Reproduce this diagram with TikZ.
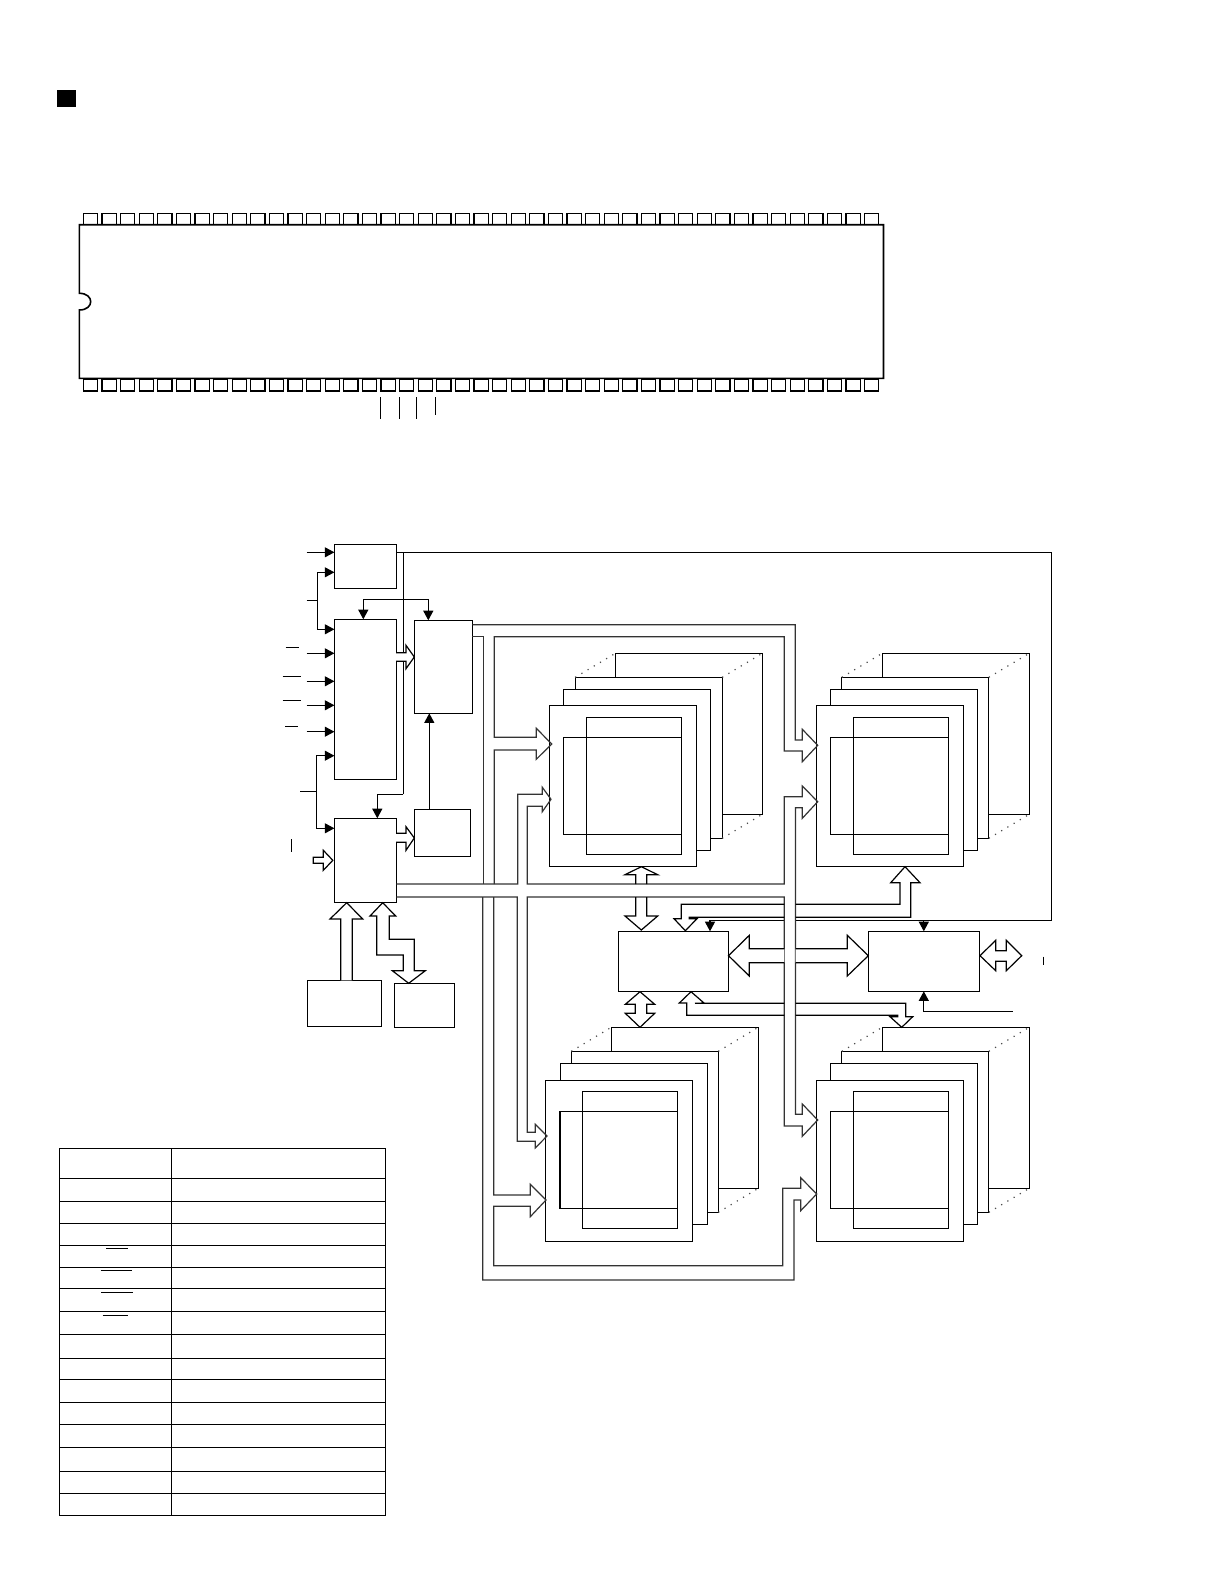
\documentclass[tikz,border=0pt]{standalone}
\usepackage{amsmath}
\usepackage{tikz}
\usetikzlibrary{calc}
\usetikzlibrary{arrows.meta}
\tikzset{
  blockNode/.style 2 args={%
    rectangle, draw, fill=white, inner sep=0pt, outer sep=0pt, line width=0.6pt,
    minimum width=#1*0.5pt, minimum height=#2*0.5pt,
  },
  memNode/.style={blockNode={147}{161}},
  innerTopNode/.style={blockNode={95}{137},fill=none},
  innerLeftNode/.style={blockNode={117.5}{97},fill=none},
  pinNode/.style={blockNode={14.3}{11.4}},
  sigLine/.style={line width=0.6pt},
  sigArrow/.style={line width=0.6pt,-{Triangle[length=4.8pt,width=5pt]}},
  busLine/.style={line width=0.6pt,draw=black!80,line join=miter},
  headLine/.style={line width=0.6pt,draw=black,fill=white},
  depthLine/.style={line width=0.6pt,draw=black!70,dash pattern=on 0.6pt off 3pt},
  tableLine/.style={line width=0.65pt},
}
\begin{document}
\begin{tikzpicture}[x=0.5pt,y=-0.5pt]

          \useasboundingbox (0,0) rectangle (1224,1584);

          \node[blockNode={17.5}{16.5},fill=black] (titleMark) at (66.2,98.5) {} ;

          \foreach \i in {0,...,42} {
            \node[pinNode] (pinTop\i) at ({90.5+18.6*\i},219) {} ;
            \node[pinNode] (pinBot\i) at ({90.5+18.6*\i},385.2) {} ;
          }
          \draw[line width=0.8pt,fill=white]
            (79.3,224.7) -- (883.5,224.7) -- (883.5,378.4) -- (79.3,378.4) -- (79.3,310)
            .. controls (94.5,310) and (94.5,293.3) .. (79.3,293.3) -- cycle;
          \draw[sigLine]
            (380.3,397) -- (380.3,419)
            (399.3,397) -- (399.3,419)
            (416.3,397) -- (416.3,419)
            (435.3,397) -- (435.3,415)
            ;

          \node[blockNode={62}{44}] (boxA) at (365.4,566.3) {} ;
          \node[blockNode={62}{160}] (boxB) at (365.4,699.3) {} ;
          \node[blockNode={58}{93}] (boxC) at (443.3,666.8) {} ;
          \node[blockNode={56}{47}] (boxD) at (442.3,832.8) {} ;
          \node[blockNode={62}{84}] (boxE) at (365.4,860.3) {} ;
          \node[blockNode={74}{46}] (boxF) at (344.3,1003.3) {} ;
          \node[blockNode={60}{44}] (boxG) at (424.3,1005.3) {} ;
          \node[blockNode={110}{60}] (boxH) at (673.3,961.3) {} ;
          \node[blockNode={111}{60}] (boxI) at (923.8,961.3) {} ;

          \node[memNode] (bankAback) at (688.9,733.8) {} ;
          \node[memNode] (bankAmidb) at (648.7,757.8) {} ;
          \node[memNode] (bankAmida) at (637,769.8) {} ;
          \node[memNode] (bankAfront) at (622.9,785.8) {} ;
          \node[innerTopNode] (bankAtop) at (633.8,785.8) {} ;
          \node[innerLeftNode] (bankAleft) at (622.6,785.8) {} ;

          \node[memNode] (bankBback) at (955.8,733.8) {} ;
          \node[memNode] (bankBmidb) at (915.3,757.8) {} ;
          \node[memNode] (bankBmida) at (904.3,769.8) {} ;
          \node[memNode] (bankBfront) at (889.8,785.9) {} ;
          \node[innerTopNode] (bankBtop) at (900.8,785.8) {} ;
          \node[innerLeftNode] (bankBleft) at (889.5,785.8) {} ;

          \node[memNode] (bankCback) at (684.8,1107.8) {} ;
          \node[memNode] (bankCmidb) at (644.8,1131.8) {} ;
          \node[memNode] (bankCmida) at (634,1143.8) {} ;
          \node[memNode] (bankCfront) at (618.8,1160.8) {} ;
          \node[innerTopNode] (bankCtop) at (629.8,1160.3) {} ;
          \node[innerLeftNode] (bankCleft) at (618.8,1160.3) {} ;

          \node[memNode] (bankDback) at (955.8,1107.8) {} ;
          \node[memNode] (bankDmidb) at (915.3,1131.8) {} ;
          \node[memNode] (bankDmida) at (904.3,1143.8) {} ;
          \node[memNode] (bankDfront) at (889.8,1160.8) {} ;
          \node[innerTopNode] (bankDtop) at (900.8,1160.3) {} ;
          \node[innerLeftNode] (bankDleft) at (889.5,1160.3) {} ;

          \foreach \bank in {bankA,bankB,bankC,bankD} {
            \draw[depthLine]
              (\bank midb.north west) -- (\bank back.north west)
              (\bank midb.north east) -- (\bank back.north east)
              (\bank midb.south east) -- (\bank back.south east)
              ;
          }

          \coordinate (inClock) at (306.7,552.3);
          \coordinate (inFork) at (306.7,600.3);
          \coordinate (inFourA) at (306.7,653.3);
          \coordinate (inFourB) at (306.7,681.3);
          \coordinate (inFourC) at (306.7,705.3);
          \coordinate (inFourD) at (306.7,731.7);
          \coordinate (inLower) at (300,791.3);
          \coordinate (splitTop) at (317.3,600.3);
          \coordinate (splitLow) at (316.3,791.3);
          \coordinate (runTop) at (403.3,552.3);
          \coordinate (runLow) at (403.3,794.3);
          \coordinate (outerTop) at (1051.5,552.3);
          \coordinate (outerLow) at (1051.5,920.3);
          \coordinate (gapRight) at (795.7,920.3);
          \coordinate (gapLeft) at (784.3,920.3);
          \coordinate (forkLeft) at (363.3,599.3);
          \coordinate (forkRight) at (428.3,599.3);
          \coordinate (inBoxI) at (1012.7,1011.3);

          \draw[sigArrow] (inClock) -- (inClock -| boxA.west);
          \draw[sigArrow] (splitTop) |- (boxA.west |- 0,572.3);
          \draw[sigArrow] (splitTop) |- (boxB.west |- 0,629.3);
          \draw[sigLine] (inFork) -- (splitTop);
          \draw[sigArrow] (inFourA) -- (inFourA -| boxB.west);
          \draw[sigArrow] (inFourB) -- (inFourB -| boxB.west);
          \draw[sigArrow] (inFourC) -- (inFourC -| boxB.west);
          \draw[sigArrow] (inFourD) -- (inFourD -| boxB.west);
          \draw[sigLine] (inLower) -- (splitLow);
          \draw[sigArrow] (splitLow) |- (boxB.west |- 0,755.7);
          \draw[sigArrow] (splitLow) |- (boxE.west |- 0,828.3);
          \draw[sigLine] (runTop) -- (runLow);
          \draw[sigArrow] (runLow) -| (boxE.north -| 377.3,0);
          \draw[sigArrow] (forkRight) -- (forkRight |- boxC.north);
          \draw[sigArrow] (forkLeft) -- (forkLeft |- boxB.north);
          \draw[sigLine] (forkLeft) -- (forkRight);
          \draw[sigArrow] (boxD.north -| 429.3,0) -- (boxC.south -| 429.3,0);
          \draw[sigLine] (boxA.east |- inClock) -- (outerTop) -- (outerLow) -- (gapRight);
          \draw[sigArrow] (boxI.north |- outerLow) -- (boxI.north);
          \draw[sigArrow] (gapLeft) -| (boxH.north -| 710,0);
          \draw[sigArrow] (inBoxI) -| (boxI.south);

          \coordinate (tipBtoC) at (414.3,657);
          \coordinate (tipEtoD) at (414.3,838);
          \coordinate (tipInE) at (332.8,860.3);
          \coordinate (tipFtoE) at (346.7,902.7);
          \coordinate (tipEtoG) at (382.7,902.7);
          \coordinate (tipGtoE) at (408.7,983.3);
          \coordinate (tipCoutA) at (551.7,744);
          \coordinate (tipCoutB) at (817.7,745.3);
          \coordinate (tipCoutC) at (546,1200);
          \coordinate (tipCoutD) at (816.7,1194);
          \coordinate (tipEoutA) at (551,799.3);
          \coordinate (tipEoutB) at (817.7,801.7);
          \coordinate (tipEoutC) at (547,1136);
          \coordinate (tipEoutD) at (817.7,1120);

          \draw[headLine] (396,652.7) -- (406,652.7) -- (406,645.3) -- (tipBtoC) -- (406,668.7) -- (406,661.3) -- (396,661.3);
          \draw[headLine] (396,833.3) -- (406,833.3) -- (406,826.7) -- (tipEtoD) -- (406,850.3) -- (406,842.3) -- (396,842.3);
          \draw[headLine] (323.3,857.3) -- (313.3,857.3) -- (313.3,863.3) -- (323.3,863.3) -- (323.3,870.3) -- (tipInE) -- (323.3,850.3) -- cycle;
          \draw[headLine] (340.7,980.3) -- (340.7,919) -- (330,919) -- (tipFtoE) -- (362.7,919) -- (352.3,919) -- (352.3,980.3);
          \draw[headLine] (tipEtoG) -- (395.7,916) -- (389.3,916) -- (389.3,939.3) -- (414.3,939.3) -- (414.3,970.7) -- (425.3,970.7) -- (tipGtoE)
            -- (392.3,970.7) -- (403.3,970.7) -- (403.3,955) -- (376.7,955) -- (376.7,916) -- (370,916) -- cycle;

          \draw[busLine]
            (boxC.east |- 0,624.7) -- (795.3,624.7) -- (795.3,740) -- (802.3,740) -- (802.3,729.3) -- (tipCoutB) -- (802.3,761.7)
            -- (802.3,751) -- (784.3,751) -- (784.3,636.7) -- (494.3,636.7) -- (494.3,737.3) -- (536.3,737.3) -- (536.3,728.3)
            -- (tipCoutA) -- (536.3,759.3) -- (536.3,750) -- (494.3,750) -- (494.3,884);
          \draw[busLine] (boxC.east |- 0,636.7) -- (483.3,636.7) -- (483.3,884);
          \draw[busLine]
            (482.7,897) -- (482.7,1280) -- (794,1280) -- (794,1200) -- (800.7,1200) -- (800.7,1210.7) -- (tipCoutD) -- (800.7,1177.7)
            -- (800.7,1188.3) -- (782.7,1188.3) -- (782.7,1265.7) -- (493.7,1265.7) -- (493.7,1206.3) -- (530.3,1206.3) -- (530.3,1216.7)
            -- (tipCoutC) -- (530.3,1184.3) -- (530.3,1195) -- (493.7,1195) -- (493.7,897);
          \draw[busLine]
            (boxE.east |- 0,884) -- (517.7,884) -- (517.7,794.3) -- (542.3,794.3) -- (542.3,787.3) -- (tipEoutA) -- (542.3,811.7)
            -- (542.3,806.3) -- (527.3,806.3) -- (527.3,884) -- (784.3,884) -- (784.3,796.7) -- (802.3,796.7) -- (802.3,786)
            -- (tipEoutB) -- (802.3,818.3) -- (802.3,807.7) -- (795.5,807.7) -- (795.5,1114.3) -- (802.3,1114.3) -- (802.3,1104)
            -- (tipEoutD) -- (802.3,1136.3) -- (802.3,1126) -- (784.3,1126) -- (784.3,897) -- (527.3,897) -- (527.3,1132.3)
            -- (535.3,1132.3) -- (535.3,1124.3) -- (tipEoutC) -- (535.3,1148) -- (535.3,1141.3) -- (517.3,1141.3) -- (517.3,897)
            -- (boxE.east |- 0,897);

          \draw[headLine,fill=none] (635.7,884) -- (635.7,874.7) -- (625,874.7) -- (641.3,866.7) -- (657.7,874.7) -- (646.7,874.7) -- (646.7,884);
          \draw[headLine,fill=none] (635.7,897) -- (635.7,916) -- (625,916) -- (641.3,930) -- (657.7,916) -- (646.7,916) -- (646.7,897);
          \draw[headLine] (640,991.7) -- (654.7,1004.3) -- (646.7,1004.3) -- (646.7,1013.3) -- (654.7,1013.3) -- (640,1027.3)
            -- (625.3,1013.3) -- (635.3,1013.3) -- (635.3,1004.3) -- (625.3,1004.3) -- cycle;

          \draw[headLine] (784.3,948.7) -- (749.3,948.7) -- (749.3,935.3) -- (728.5,955.7) -- (749.3,976) -- (749.3,962.7) -- (784.3,962.7);
          \draw[headLine] (795.7,948.7) -- (847.3,948.7) -- (847.3,935.3) -- (868.3,955.7) -- (847.3,976) -- (847.3,962.7) -- (795.7,962.7);
          \draw[headLine] (980,955.7) -- (995.7,940.3) -- (995.7,950.7) -- (1006.3,950.7) -- (1006.3,940.3) -- (1021.7,955.7)
            -- (1006.3,970.7) -- (1006.3,961.3) -- (995.7,961.3) -- (995.7,970.7) -- cycle;

          \draw[headLine,fill=none] (795.7,917.3) -- (910.7,917.3) -- (910.7,882.7) -- (920,882.7) -- (905,866.7) -- (890.7,882.7) -- (900,882.7) -- (900,904.3) -- (795.7,904.3);
          \draw[headLine,fill=none] (784.3,904.3) -- (681.3,904.3) -- (681.3,918.7) -- (674,918.7) -- (685.3,930.7) -- (697,918.7) -- (689.3,918.7) -- (689.3,917.3) -- (784.3,917.3);
          \draw[headLine,fill=none] (784.3,1015.3) -- (686.7,1015.3) -- (686.7,1003) -- (679.3,1003) -- (691,991.7) -- (704,1003) -- (695,1003.3) -- (784.3,1003.3);
          \draw[headLine,fill=none] (795.7,1003.3) -- (905.7,1003.3) -- (905.7,1016.7) -- (912.7,1016.7) -- (901.7,1027.3) -- (890,1016.7) -- (897.7,1016.7) -- (897.7,1015.3) -- (795.7,1015.3);

          \draw[sigLine]
            (285.7,647.3) -- (298.7,647.3)
            (282.7,676.4) -- (301,676.4)
            (282.7,700.3) -- (301,700.3)
            (285,726.3) -- (298,726.3)
            (291.7,839) -- (291.7,851.7)
            (1043.3,956.7) -- (1043.3,965)
            ;

          \draw[tableLine] (59.3,1148.3) rectangle (385.3,1515.4);
          \draw[tableLine] (171.7,1148.3) -- (171.7,1515.4);
          \foreach \rowy in {1178.3,1201.3,1223.3,1245.3,1267.3,1288.3,1311.3,1334.3,1358.3,1379.3,1402.3,1424.3,1447.3,1471.3,1493.3} {
            \draw[tableLine] (59.3,\rowy) -- (385.3,\rowy);
          }
          \draw[sigLine]
            (106,1248.3) -- (127.7,1248.3)
            (100.7,1270.3) -- (131.7,1270.3)
            (101.3,1292.3) -- (133,1292.3)
            (102.7,1315.4) -- (128,1315.4)
            ;

        \end{tikzpicture}
\end{document}
